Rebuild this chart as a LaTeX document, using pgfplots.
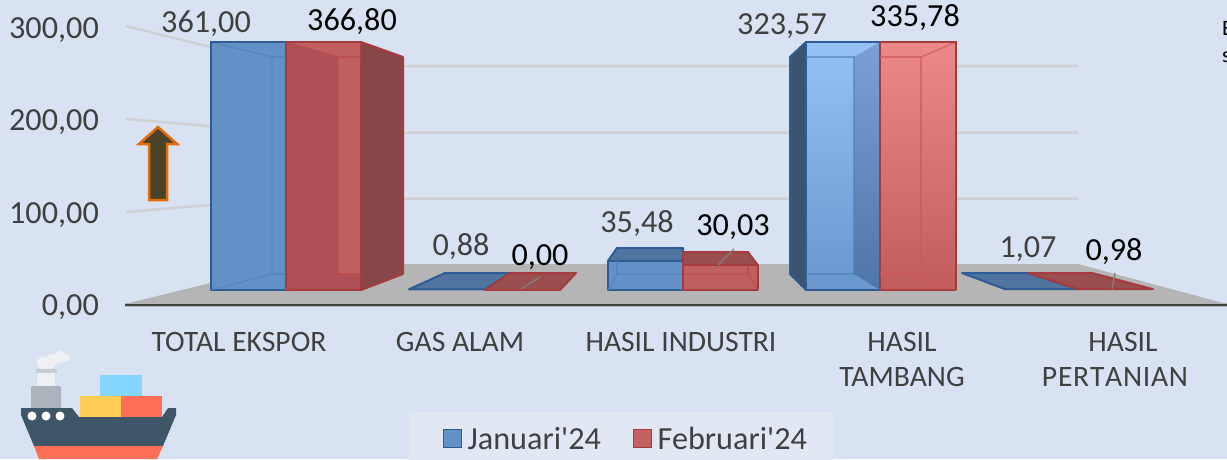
\documentclass[border=0pt]{standalone}
\usepackage{pgfplots}
\pgfplotsset{compat=1.18}
\usepackage{fontspec}
\setmainfont{Carlito}
\newfontfamily\legfont{Carlito}
\definecolor{pagebg}{HTML}{D9E2F3}
\definecolor{legbg}{HTML}{E1E7F3}
\definecolor{floorc}{HTML}{B5B5B5}
\definecolor{gridc}{HTML}{CFD1D6}
\definecolor{lab}{HTML}{404040}
\definecolor{bluee}{HTML}{2F5C96}
\definecolor{bluef}{HTML}{6390C6}
\definecolor{bluei}{HTML}{4F7FB8}
\definecolor{bluet}{HTML}{4F749F}
\definecolor{rede}{HTML}{A33B3F}
\definecolor{redf}{HTML}{AE5056}
\definecolor{redl}{HTML}{BF5F60}
\definecolor{redi}{HTML}{B84A4C}
\definecolor{redt}{HTML}{9A4E4E}
\definecolor{redd}{HTML}{874748}
\definecolor{arrowe}{HTML}{E36C09}
\definecolor{arrowf}{HTML}{4B4327}
\definecolor{shipw}{HTML}{EEF0F3}
\definecolor{shipc}{HTML}{C5CCD3}
\definecolor{shipg}{HTML}{ACB3BA}
\definecolor{shipb}{HTML}{85D6FF}
\definecolor{shipy}{HTML}{FFCC55}
\definecolor{shipr}{HTML}{FF6F57}
\definecolor{shiph}{HTML}{3F5568}
\definecolor{sidedark}{HTML}{3A5470}
\definecolor{tbtop}{HTML}{98C4F8}
\definecolor{tbbot}{HTML}{6A96CE}
\definecolor{tbstop}{HTML}{7D9FD6}
\definecolor{tbsbot}{HTML}{4F76A8}
\definecolor{trtop}{HTML}{F08E8E}
\definecolor{trbot}{HTML}{C05C5C}
\definecolor{trin}{HTML}{CD5A5A}
\definecolor{legred}{HTML}{C46060}
\newcommand{\bigfont}{\fontsize{32.2}{36}\selectfont}
\pgfplotsset{
  pixel axis/.style={width=1227pt,height=459pt,scale only axis,at={(0pt,0pt)},anchor=south west,
    xmin=0,xmax=1227,ymin=0,ymax=459,y dir=reverse,hide axis,clip=false},
  bl/.style={draw=bluee,line width=2pt,line join=round},
  rd/.style={draw=rede,line width=2pt,line join=round},
  bin/.style={draw=bluei,line width=1.3pt,draw opacity=0.6},
  rin/.style={draw=redi,line width=1.3pt,draw opacity=0.7},
}
\begin{document}
\begin{tikzpicture}
\path[use as bounding box] (0pt,0pt) rectangle (1227pt,459pt);
\clip (0pt,0pt) rectangle (1227pt,459pt);
% background, floor, walls, arrow, ship (pixel coordinates)
\begin{axis}[pixel axis]
\fill[pagebg] (0,0) rectangle (1227,459);
\fill[floorc] (125,304) -- (287,264) -- (1078,264) -- (1227,304) -- cycle;
\draw[gridc,line width=2.5pt] (126,26) -- (287,66) -- (1078,66);
\draw[gridc,line width=2.5pt] (126,119) -- (287,132.5) -- (1078,132.5);
\draw[gridc,line width=2.5pt] (126,212) -- (287,198.5) -- (1078,198.5);
\draw[floorc,line width=4.5pt] (125,305) -- (1227,305);
\draw[lab,line width=2.5pt] (125,305) -- (1227,305);
\draw[draw=arrowe,fill=arrowf,line width=2.5pt,line join=miter]
  (158,127) -- (177,144) -- (167,144) -- (167,200) -- (149,200) -- (149,144) -- (139,144) -- cycle;
% ship
\fill[shipw] (43,363) circle[radius=6pt] (52,360) circle[radius=6pt] (60,357) circle[radius=6pt]
  (66,358) circle[radius=4pt] (50,364) circle[radius=5pt];
\fill[shipw] (37,372) rectangle (55,386);
\fill[shipc] (36,369) rectangle (57,373);
\fill[shipg,rounded corners=1pt] (31,386) rectangle (61,409);
\fill[shipb] (100,375) rectangle (142,396);
\fill[shipy] (80,396) rectangle (121,417);
\fill[shipr] (121,396) rectangle (162,417);
\fill[shiph] (21,408) -- (72,408) -- (79,417) -- (162,417) -- (168,408) -- (176,408)
  -- (176,415) -- (163,446) -- (34,446) -- (21,415) -- cycle;
\fill[shipr] (34,446) -- (163,446) -- (157,459) -- (39,459) -- cycle;
\fill[white] (32,416) circle[radius=4.5pt] (46,416) circle[radius=4.5pt] (60,416) circle[radius=4.5pt];
\end{axis}
% value axis and category labels
\begin{axis}[width=1124pt,height=277pt,scale only axis,at={(103pt,154pt)},anchor=south west,
  xmin=103,xmax=1227,ymin=0,ymax=300,axis lines=left,axis line style={draw=none,-},tick style={draw=none},
  major tick length=0pt,
  ytick={0,100,200,300},
  xtick={239,460,681,902,1115},
  xticklabels={TOTAL EKSPOR,GAS ALAM,HASIL INDUSTRI,HASIL\\TAMBANG,\hspace*{16pt}HASIL\\{\addfontfeature{Kerning=Off,LetterSpace=2.5}PERTANIAN}},
  xticklabel style={font=\fontsize{29.6}{35}\selectfont,text=lab,align=center,anchor=north,inner sep=0pt,yshift=-27pt},
  yticklabel style={font=\bigfont,text=lab,anchor=east,inner sep=0pt,xshift=-4pt,yshift=-2pt,
    /pgf/number format/.cd,fixed,fixed zerofill,precision=2,use comma,assume math mode=true},
]
\addplot[draw=none] coordinates {(103,0) (1227,300)};
\end{axis}
% bars: x in pixels, y in the chart's values; the axis cuts the tall bars at its top
\begin{axis}[width=1227pt,height=249pt,scale only axis,at={(0pt,169pt)},anchor=south west,
  xmin=0,xmax=1227,ymin=0,ymax=303.66,hide axis,clip=true]
% TOTAL EKSPOR
\addplot[bl,fill=bluef] coordinates {(211,0) (211,361.00) (286,361.00) (286,0)} -- cycle;
\addplot[bin] coordinates {(211,302.44) (272,284.15) (272,19.51) (211,0)};
\addplot[bin] coordinates {(272,284.15) (286,284.15)};
\addplot[bin] coordinates {(272,19.51) (286,19.51)};
\addplot[rd,fill=redd] coordinates {(361,302.44) (403,284.15) (403,19.51) (361,0)} -- cycle;
\addplot[rd,fill=redf] coordinates {(286,0) (286,366.80) (361,366.80) (361,0)} -- cycle;
\addplot[draw=none,fill=redl] coordinates {(287,302) (360,302) (360,284.15) (338,284.15)} -- cycle;
\addplot[draw=none,fill=redl] coordinates {(338,284.15) (360,284.15) (360,19.51) (338,19.51)} -- cycle;
\addplot[rin] coordinates {(286,302.44) (338,284.15) (338,19.51) (286,0)};
\addplot[rin] coordinates {(338,284.15) (361,284.15)};
\addplot[rin] coordinates {(338,19.51) (361,19.51)};
\addplot[bl] coordinates {(211,302.44) (286,302.44)};
\addplot[rd] coordinates {(286,302.44) (361,302.44)};
% GAS ALAM
\addplot[bl,fill=bluet] coordinates {(409,0.88) (485,0.88) (510,20.73) (445,20.73)} -- cycle;
\addplot[rd,fill=redt] coordinates {(485,0.00) (560,0.00) (576,20.73) (510,20.73)} -- cycle;
% HASIL INDUSTRI
\addplot[bl,fill=bluet] coordinates {(608,35.48) (617,51.22) (683,51.22) (683,35.48)} -- cycle;
\addplot[bl,fill=bluef] coordinates {(608,0) (608,35.48) (683,35.48) (683,0)} -- cycle;
\addplot[bin] coordinates {(608,0) (617,19.51) (683,19.51)};
\addplot[bin] coordinates {(617,19.51) (617,35.48)};
\addplot[rd,fill=redt] coordinates {(683,30.03) (683,46.34) (748,46.34) (758,30.03)} -- cycle;
\addplot[rd,fill=redl] coordinates {(683,0) (683,30.03) (758,30.03) (758,0)} -- cycle;
\addplot[rin] coordinates {(758,0) (748,19.51) (683,19.51)};
\addplot[rin] coordinates {(748,19.51) (748,30.03)};
% HASIL TAMBANG
\addplot[bl,fill=sidedark] coordinates {(806,302.44) (790,284.15) (790,19.51) (806,0)} -- cycle;
\addplot[bl,top color=tbtop,bottom color=tbbot]
  coordinates {(806,0) (806,323.57) (880,323.57) (880,0)} -- cycle;
\addplot[draw=none,top color=tbstop,bottom color=tbsbot]
  coordinates {(880,302.44) (854,284.15) (854,19.51) (880,0)} -- cycle;
\addplot[bin] coordinates {(806,284.15) (854,284.15) (854,19.51) (806,19.51)};
\addplot[rd,top color=trtop,bottom color=trbot]
  coordinates {(880,0) (880,335.78) (956,335.78) (956,0)} -- cycle;
\addplot[rin,draw=trin] coordinates {(880,284.15) (921,284.15) (921,19.51) (880,19.51)};
\addplot[rin,draw=trin] coordinates {(956,302.44) (921,284.15)};
\addplot[rin,draw=trin] coordinates {(956,0) (921,19.51)};
\addplot[bl] coordinates {(806,302.44) (880,302.44)};
\addplot[rd] coordinates {(880,302.44) (956,302.44)};
% HASIL PERTANIAN
\addplot[bl,fill=bluet] coordinates {(1005,1.07) (1078,1.07) (1028,20.73) (962,20.73)} -- cycle;
\addplot[rd,fill=redt] coordinates {(1078,0.98) (1153,0.98) (1092,20.73) (1028,20.73)} -- cycle;
\end{axis}
% labels, leaders and legend over the bars
\begin{axis}[pixel axis,
  legend style={at={(axis cs:409,466)},anchor=south west,draw=none,fill=legbg,
    font=\fontsize{28.7}{34}\selectfont,text=lab,inner xsep=24pt,inner ysep=13pt,
    legend columns=2,/tikz/every even column/.append style={column sep=30pt}},
  legend cell align=left]
\addlegendimage{legend image code/.code={\path (-10pt,0pt) (22pt,0pt);\draw[draw=bluee,fill=bluef,line width=1.2pt] (0pt,-9pt) rectangle (18pt,9pt);}}
\addlegendentry{\legfont Januari\symbol{39}24}
\addlegendimage{legend image code/.code={\path (22pt,0pt);\draw[draw=rede,fill=legred,line width=1.2pt] (0pt,-9pt) rectangle (18pt,9pt);}}
\addlegendentry{\legfont Februari\symbol{39}24}
\draw[gray,line width=1.3pt] (521,289) -- (540,277);
\draw[gray,line width=1.3pt] (718,265) -- (734,249);
\draw[gray,line width=1.3pt] (1112,289) -- (1115,273);
\tikzset{every node/.append style={font=\bigfont,inner sep=0pt}}
\node[text=lab] at (206,24) {361,00};
\node at (352,22) {366,80};
\node[text=lab] at (461,247) {0,88};
\node at (540,257) {0,00};
\node[text=lab] at (637,224) {35,48};
\node at (733,227) {30,03};
\node[text=lab] at (782,26) {323,57};
\node at (915,18) {335,78};
\node[text=lab] at (1028,249) {1,07};
\node at (1114,252) {0,98};
\node[font=\fontsize{22}{26}\selectfont,anchor=west] at (1222,28) {E};
\node[font=\fontsize{22}{26}\selectfont,anchor=west] at (1222,57) {s};
\end{axis}
\end{tikzpicture}
\end{document}
